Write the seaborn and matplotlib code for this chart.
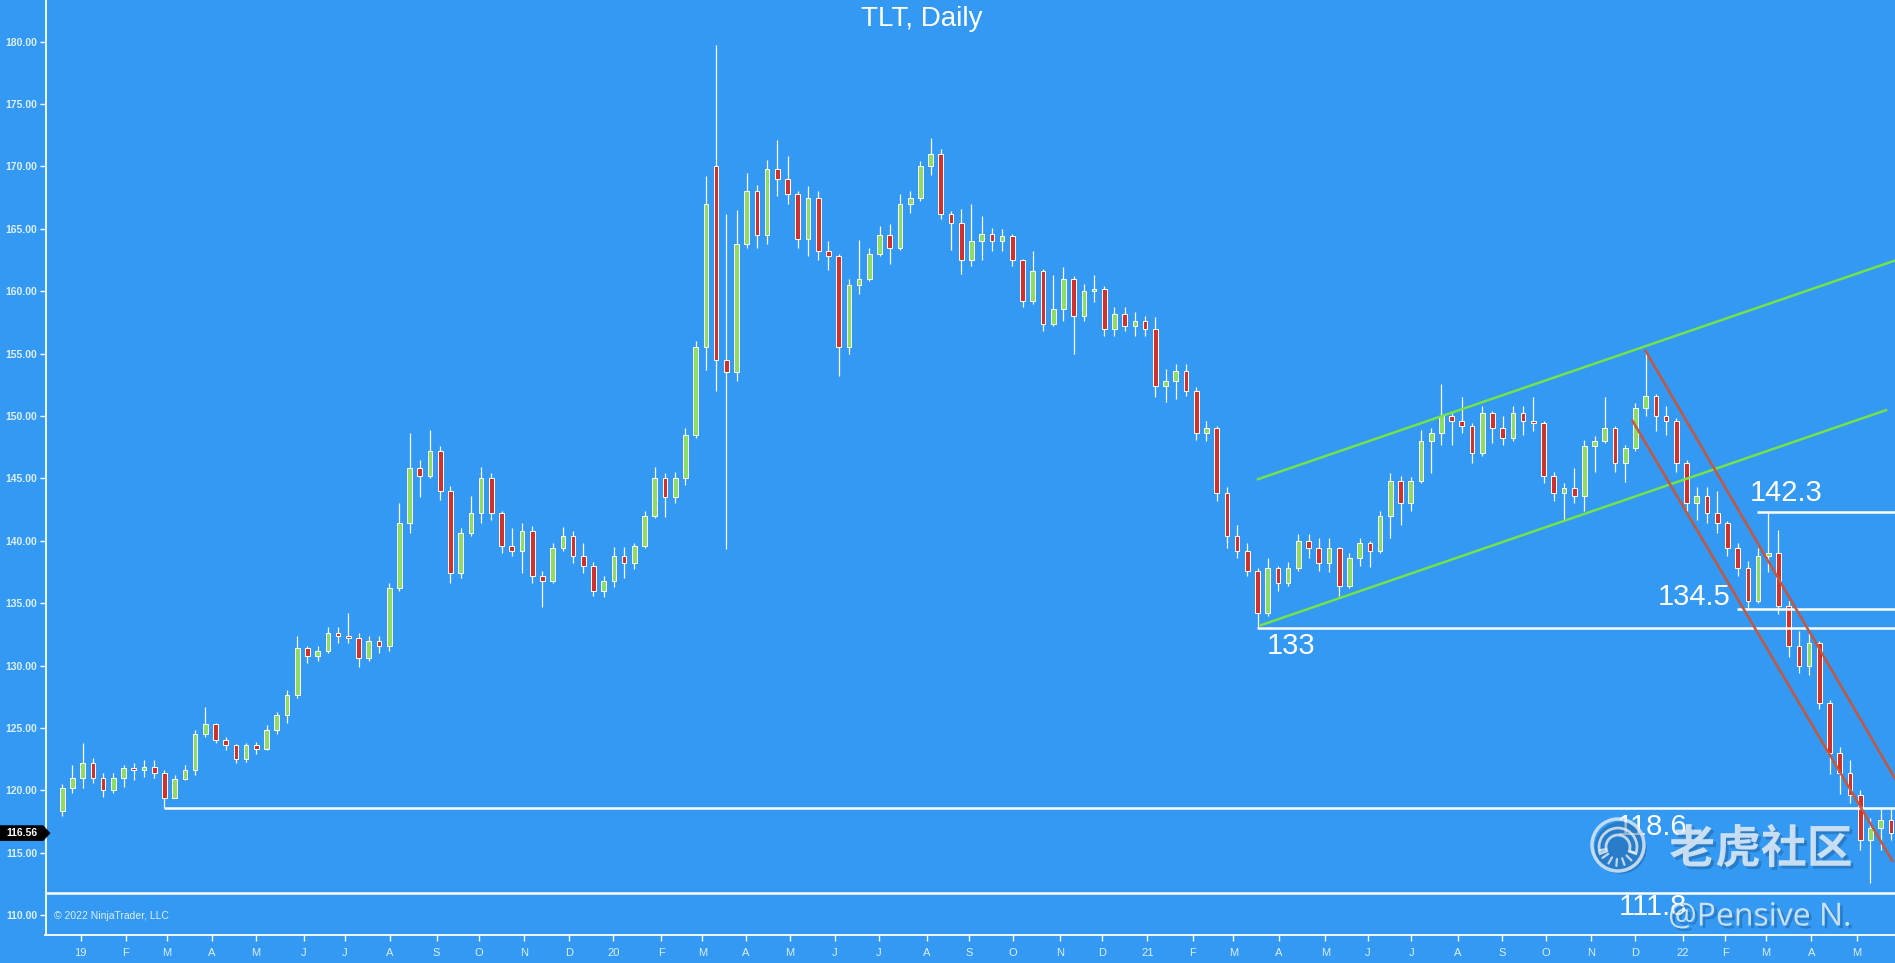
import numpy as np
import pandas as pd
import matplotlib
matplotlib.use('Agg')
import matplotlib.pyplot as plt
import matplotlib.dates as mdates
import matplotlib.patches as mpatches
import matplotlib.patheffects as pe
import seaborn as sns

first_week = '2018-12-17'

open_2018 = [118.3, 120.2]
high_2018 = [120.5, 122.0]
low_2018 = [117.9, 119.8]
close_2018 = [120.2, 121.0]

open_2019 = [121.0, 122.2, 121.0, 120.0, 121.0, 121.8, 121.6, 121.9, 121.4, 119.4, 120.9, 121.6, 124.5,
             125.3, 124.0, 123.6, 122.5, 123.6, 123.3, 124.8, 126.0, 127.6, 131.4, 130.8, 131.2, 132.6,
             132.4, 132.2, 130.6, 132.0, 131.6, 136.2, 141.4, 145.8, 145.2, 147.2, 144.0, 137.4, 140.6,
             142.2, 145.0, 142.2, 139.6, 139.2, 140.8, 137.2, 136.8, 139.4, 140.4, 138.8, 138.0, 136.0]
high_2019 = [123.8, 122.6, 121.4, 121.4, 122.0, 122.2, 122.4, 122.4, 121.6, 121.2, 122.0, 124.8, 126.7,
             125.4, 124.3, 123.7, 123.8, 123.9, 125.2, 126.3, 128.0, 132.4, 131.6, 131.6, 133.1, 133.1,
             134.2, 132.6, 132.4, 132.4, 136.6, 143.0, 148.6, 146.5, 148.9, 147.6, 144.4, 141.0, 143.6,
             145.9, 145.4, 142.4, 141.0, 141.4, 141.2, 137.6, 139.8, 141.1, 140.8, 139.8, 138.3, 137.2]
low_2019 = [120.2, 120.6, 119.5, 119.8, 120.3, 120.8, 121.1, 121.0, 118.6, 119.4, 120.8, 121.2, 124.3,
            123.8, 123.2, 122.2, 122.3, 122.9, 123.2, 124.5, 125.4, 127.4, 130.2, 130.4, 131.0, 131.8,
            131.8, 129.9, 130.4, 131.0, 131.2, 136.0, 140.6, 143.5, 145.0, 143.3, 136.6, 137.0, 140.4,
            141.4, 141.7, 139.0, 138.8, 137.4, 136.6, 134.7, 136.6, 139.2, 138.2, 137.4, 135.6, 135.5]
close_2019 = [122.2, 121.0, 120.0, 121.0, 121.8, 121.6, 121.9, 121.4, 119.4, 120.9, 121.6, 124.5, 125.3,
              124.0, 123.6, 122.5, 123.6, 123.3, 124.8, 126.0, 127.6, 131.4, 130.8, 131.2, 132.6, 132.4,
              132.2, 130.6, 132.0, 131.6, 136.2, 141.4, 145.8, 145.2, 147.2, 144.0, 137.4, 140.6, 142.2,
              145.0, 142.2, 139.6, 139.2, 140.8, 137.2, 136.8, 139.4, 140.4, 138.8, 138.0, 136.0, 136.8]

open_2020 = [136.8, 138.8, 138.2, 139.6, 142.0, 145.0, 143.5, 145.0, 148.5, 155.5, 170.0, 154.5, 153.5,
             163.8, 168.0, 164.5, 169.8, 169.0, 167.8, 164.2, 167.5, 163.2, 162.8, 155.5, 160.5, 161.0,
             163.0, 164.5, 163.5, 167.0, 167.5, 170.0, 171.0, 166.2, 165.5, 162.5, 164.0, 164.6, 164.0,
             164.4, 162.5, 159.2, 161.6, 157.4, 158.6, 161.0, 158.0, 160.0, 160.2, 157.0, 158.2, 157.2, 157.6]
high_2020 = [139.5, 139.5, 139.8, 142.4, 145.9, 145.4, 145.5, 149.0, 156.0, 169.2, 179.7, 166.2, 166.5,
             169.5, 168.5, 170.5, 172.1, 170.8, 168.0, 168.4, 168.0, 164.0, 163.0, 161.0, 164.1, 163.5,
             165.2, 165.4, 167.8, 168.0, 170.4, 172.3, 171.4, 166.4, 166.6, 167.0, 166.0, 165.1, 165.0,
             164.6, 162.6, 163.2, 161.8, 161.3, 161.9, 161.2, 160.6, 161.3, 160.4, 158.7, 158.7, 158.3, 158.0]
low_2020 = [136.3, 137.0, 137.7, 139.4, 141.8, 141.9, 143.0, 144.5, 148.2, 153.7, 152.0, 139.3, 152.8,
            163.5, 163.5, 163.8, 167.6, 167.0, 163.5, 162.8, 162.5, 161.7, 153.2, 155.0, 159.8, 160.8,
            162.8, 162.2, 163.3, 166.3, 167.2, 169.3, 165.8, 163.3, 161.4, 162.0, 162.5, 163.2, 163.2,
            162.0, 158.7, 159.0, 156.8, 157.2, 157.6, 155.0, 157.6, 159.1, 156.4, 156.4, 156.8, 156.4, 156.4]
close_2020 = [138.8, 138.2, 139.6, 142.0, 145.0, 143.5, 145.0, 148.5, 155.5, 167.0, 154.5, 153.5, 163.8,
              168.0, 164.5, 169.8, 169.0, 167.8, 164.2, 167.5, 163.2, 162.8, 155.5, 160.5, 161.0, 163.0,
              164.5, 163.5, 167.0, 167.5, 170.0, 171.0, 166.2, 165.5, 162.5, 164.0, 164.6, 164.0, 164.4,
              162.5, 159.2, 161.6, 157.4, 158.6, 161.0, 158.0, 160.0, 160.2, 157.0, 158.2, 157.2, 157.6, 157.0]

open_2021 = [157.0, 152.4, 152.8, 153.6, 152.0, 148.6, 149.0, 143.8, 140.4, 139.2, 137.6, 134.2, 137.8,
             136.6, 137.8, 140.0, 139.4, 138.2, 139.4, 136.4, 138.6, 139.8, 139.2, 142.0, 144.8, 143.0,
             144.8, 148.0, 148.6, 150.0, 149.6, 149.2, 147.0, 150.2, 149.0, 148.2, 150.2, 149.6, 149.4,
             145.2, 143.8, 144.2, 143.6, 147.6, 148.0, 149.0, 146.2, 147.4, 150.6, 151.6, 150.0, 149.6]
high_2021 = [157.9, 153.8, 154.2, 154.2, 152.3, 149.6, 149.2, 144.3, 141.3, 139.8, 137.8, 138.6, 138.0,
             138.3, 140.5, 140.5, 140.2, 140.2, 139.5, 139.0, 140.2, 140.0, 142.4, 145.4, 145.2, 145.1,
             148.9, 149.0, 152.6, 150.2, 151.5, 149.4, 150.8, 150.4, 150.0, 150.8, 150.8, 151.5, 149.6,
             145.5, 144.6, 145.8, 148.1, 148.4, 151.5, 149.2, 147.7, 151.0, 155.1, 151.8, 150.8, 149.8]
low_2021 = [151.5, 151.1, 151.4, 151.6, 148.1, 148.0, 143.2, 139.4, 138.6, 137.2, 133.1, 134.0, 136.0,
            136.4, 137.6, 138.6, 137.6, 137.5, 135.6, 136.2, 138.0, 137.9, 139.0, 140.2, 141.3, 142.4,
            144.6, 145.4, 147.7, 147.7, 148.6, 146.2, 146.8, 147.8, 147.7, 148.0, 148.5, 148.8, 144.6,
            143.2, 141.7, 143.0, 142.4, 145.5, 147.8, 145.5, 144.7, 147.2, 150.0, 148.8, 148.5, 145.5]
close_2021 = [152.4, 152.8, 153.6, 152.0, 148.6, 149.0, 143.8, 140.4, 139.2, 137.6, 134.2, 137.8, 136.6,
              137.8, 140.0, 139.4, 138.2, 139.4, 136.4, 138.6, 139.8, 139.2, 142.0, 144.8, 143.0, 144.8,
              148.0, 148.6, 150.0, 149.6, 149.2, 147.0, 150.2, 149.0, 148.2, 150.2, 149.6, 149.4, 145.2,
              143.8, 144.2, 143.6, 147.6, 148.0, 149.0, 146.2, 147.4, 150.6, 151.6, 150.0, 149.6, 146.2]

open_2022 = [146.2, 143.0, 143.6, 142.2, 141.4, 139.4, 137.8, 135.2, 138.8, 139.0, 134.8, 131.6, 130.0,
             131.8, 127.0, 123.0, 121.4, 119.6, 116.0, 117.0, 117.6]
high_2022 = [146.5, 144.3, 144.3, 144.0, 141.6, 139.8, 138.4, 139.4, 142.3, 140.9, 135.2, 132.8, 132.6,
             132.0, 127.2, 123.5, 122.4, 120.0, 117.8, 118.6, 118.6]
low_2022 = [142.4, 141.7, 141.4, 140.6, 138.8, 137.2, 134.5, 135.0, 137.5, 134.1, 130.7, 129.4, 129.2,
            126.5, 121.3, 119.7, 119.0, 115.2, 112.6, 115.2, 116.0]
close_2022 = [143.0, 143.6, 142.2, 141.4, 139.4, 137.8, 135.2, 138.8, 139.0, 134.8, 131.6, 130.0, 131.8,
              127.0, 123.0, 121.4, 119.6, 116.0, 117.0, 117.6, 116.56]

# horizontal levels drawn on the chart: value, first date
level_values = [118.6, 133.0, 134.5, 142.3]
level_starts = ['2019-02-27', '2021-03-17', '2022-02-09', '2022-02-23']
floor_level = 111.8

# channel lines (date, price) pairs
green_upper = (['2021-03-17', '2022-06-15'], [144.9, 163.17])
green_lower = (['2021-03-19', '2022-05-23'], [133.2, 150.5])
red_upper = (['2021-12-08', '2022-06-10'], [155.3, 118.4])
red_lower = (['2021-11-29', '2022-05-27'], [149.7, 114.25])

opens = np.array(open_2018 + open_2019 + open_2020 + open_2021 + open_2022)
highs = np.array(high_2018 + high_2019 + high_2020 + high_2021 + high_2022)
lows = np.array(low_2018 + low_2019 + low_2020 + low_2021 + low_2022)
closes = np.array(close_2018 + close_2019 + close_2020 + close_2021 + close_2022)

weeks = pd.date_range(first_week, periods=len(closes), freq='W-MON')
x = mdates.date2num(weeks + pd.Timedelta(hours=60))

bg = '#3399f3'
txt = '#dcefff'
sns.set_style('ticks', {'axes.facecolor': bg, 'figure.facecolor': bg})
plt.rcParams['font.family'] = ['Liberation Sans', 'DejaVu Sans']

fig = plt.figure(figsize=(18.95, 9.63), dpi=100)
ax = fig.add_axes([45.5 / 1895, 28 / 963, 1 - 45.5 / 1895, 935 / 963])
ax.set_facecolor(bg)

up = closes >= opens
body_col = np.where(up, '#8fdc63', '#d2302b')
ax.vlines(x, lows, highs, color='white', lw=0.9, zorder=2)
ax.bar(x, np.abs(closes - opens), bottom=np.minimum(opens, closes), width=3.2,
       color=body_col, edgecolor='white', linewidth=0.7, zorder=3)

# levels
for v, s in zip(level_values, level_starts):
    ax.hlines(v, mdates.date2num(pd.Timestamp(s)), mdates.date2num(pd.Timestamp('2022-06-30')),
              color='white', lw=1.8, zorder=4)
ax.axhline(floor_level, color='white', lw=1.8, zorder=4)

for (dx, py), col in [(green_upper, '#74e24a'), (green_lower, '#74e24a'),
                      (red_upper, '#c4573f'), (red_lower, '#c4573f')]:
    ax.plot(mdates.date2num(pd.to_datetime(dx)), py, color=col, lw=1.8, zorder=4,
            solid_capstyle='butt')

lab_kw = dict(color='white', fontsize=21, va='center', ha='left', zorder=6)
ax.text(mdates.date2num(pd.Timestamp('2021-03-24')), 131.6, '133', **lab_kw)
ax.text(mdates.date2num(pd.Timestamp('2022-02-18')), 143.8, '142.3', **lab_kw)
ax.text(mdates.date2num(pd.Timestamp('2021-12-17')), 135.5, '134.5', **lab_kw)
ax.text(mdates.date2num(pd.Timestamp('2021-11-19')), 117.05, '118.6', **lab_kw)
ax.text(mdates.date2num(pd.Timestamp('2021-11-20')), 110.65, '111.8', **lab_kw)

ax.set_xlim(mdates.date2num(pd.Timestamp('2018-12-08')),
            mdates.date2num(pd.Timestamp('2022-05-28 08:00')))
ax.set_ylim(108.40, 183.34)

ax.set_yticks(np.arange(110, 181, 5))
ax.set_yticklabels([f'{v:.2f}' for v in np.arange(110, 181, 5)],
                   fontsize=7.5, fontweight='bold', color=txt)
month_starts = pd.date_range('2019-01-01', '2022-05-31', freq='BMS')
ax.set_xticks(mdates.date2num(month_starts))
ax.set_xticklabels([f'{d:%y}' if d.month == 1 else d.strftime('%b')[0] for d in month_starts],
                   fontsize=8, color=txt, family=['Liberation Sans Narrow', 'Liberation Sans'])
ax.tick_params(axis='y', length=4, width=1, color='white', pad=2)
ax.tick_params(axis='x', length=4, width=1, color='white', pad=5)
sns.despine(ax=ax, top=True, right=True)
for sp in ['left', 'bottom']:
    ax.spines[sp].set_color('white')
    ax.spines[sp].set_linewidth(1.3)

ax.text(0.0045, 0.0145, '\u00a9 2022 NinjaTrader, LLC', transform=ax.transAxes,
        fontsize=7.5, color=txt, ha='left', va='bottom')

# overlay in pixel coordinates for title, price marker and watermark
ov = fig.add_axes([0, 0, 1, 1])
ov.set_xlim(0, 1895)
ov.set_ylim(963, 0)
ov.axis('off')
ov.patch.set_alpha(0)
ov.set_zorder(5)

ov.text(922, 19, 'TLT, Daily', color='white', fontsize=20, ha='center', va='center')

# last price marker tied to the last close
fig.canvas.draw()
py = 963 - ax.transData.transform((x[-1], closes[-1]))[1]
ov.add_patch(mpatches.Polygon([(0, py - 7.5), (43, py - 7.5), (50, py), (43, py + 7.5), (0, py + 7.5)],
                              closed=True, fc='black', ec='black', lw=0.5))
ov.text(22, py, f'{closes[-1]:.2f}', color='white', fontsize=7.5, fontweight='bold',
        ha='center', va='center')

# watermark
wm = '#e4eef8'
shadow = [pe.withSimplePatchShadow(offset=(2, -2), shadow_rgbFace='#1d5a92', alpha=0.45)]
ring = mpatches.Circle((1618, 845), 26, fill=False, ec=wm, lw=2.5, alpha=0.8)
band = mpatches.Wedge((1618, 847), 19, 160, 20, width=7, fill=False, ec=wm, lw=2, alpha=0.8)
ring.set_path_effects(shadow)
ov.add_patch(ring)
ov.add_patch(band)
for ang in np.radians([190, 215, 240, 265, 290, 315, 340]):
    ov.plot([1618 + 12 * np.cos(ang), 1618 + 19 * np.cos(ang)],
            [847 - 12 * np.sin(ang), 847 - 19 * np.sin(ang)], color=wm, lw=1.6, alpha=0.8)
ov.text(1761, 850, '老虎社区', color=wm, alpha=0.85, fontsize=33, fontweight='bold',
        family=['Noto Sans CJK SC', 'DejaVu Sans'], ha='center', va='center', path_effects=shadow)
ov.text(1760, 917, '@Pensive N.', color=wm, alpha=0.85, fontsize=23,
        family=['Open Sans', 'DejaVu Sans'], ha='center', va='center', path_effects=shadow)

fig.savefig('out.png', dpi=100, facecolor=bg)
